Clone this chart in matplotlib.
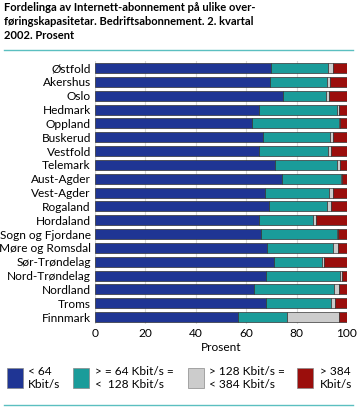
import matplotlib
matplotlib.use("Agg")
import matplotlib.pyplot as plt
from matplotlib.patches import Rectangle
from matplotlib.lines import Line2D
import numpy as np

plt.rcParams['font.family'] = ['Lato', 'DejaVu Sans']

# fylke, top to bottom
fylker = ["Østfold", "Akershus", "Oslo", "Hedmark", "Oppland", "Buskerud",
          "Vestfold", "Telemark", "Aust-Agder", "Vest-Agder", "Rogaland",
          "Hordaland", "Sogn og Fjordane", "Møre og Romsdal", "Sør-Trøndelag",
          "Nord-Trøndelag", "Nordland", "Troms", "Finnmark"]

# percentages
under_64 = [69.8, 69.3, 74.8, 65.2, 62.3, 66.8, 65.2, 71.3, 74.2, 67.4, 69.0,
            65.0, 65.8, 68.3, 71.0, 67.8, 63.0, 67.8, 56.7]
k64_128 = [22.7, 22.6, 16.9, 30.8, 34.4, 26.4, 27.3, 24.9, 23.4, 25.6, 23.1,
           21.5, 30.2, 26.3, 19.1, 29.3, 31.8, 25.7, 19.3]
k128_384 = [1.8, 1.3, 1.0, 0.8, 0.4, 1.1, 1.0, 0.9, 0.5, 1.3, 1.5,
            1.2, 0.6, 2.0, 0.9, 1.0, 2.2, 1.7, 20.7]
over_384 = [5.7, 6.8, 7.3, 3.2, 2.9, 5.7, 6.5, 2.9, 1.9, 5.7, 6.4,
            12.3, 3.4, 3.4, 9.0, 1.9, 3.0, 4.8, 3.3]

series = [under_64, k64_128, k128_384, over_384]
labels = ["< 64\nKbit/s", "> = 64 Kbit/s =\n<  128 Kbit/s",
          "> 128 Kbit/s =\n< 384 Kbit/s", "> 384\nKbit/s"]
colors = ["#1f3594", "#1a9c9a", "#cccccc", "#9b0e0c"]
xticks = [0, 20, 40, 60, 80, 100]

fig = plt.figure(figsize=(3.57, 4.08), dpi=100)
ax = fig.add_axes([0.266, 0.206, 0.706, 0.644])

y = np.arange(len(fylker))
left = np.zeros(len(fylker))
for vals, col in zip(series, colors):
    ax.barh(y, vals, left=left, height=0.72, color=col,
            edgecolor="#333333", linewidth=0.5, zorder=3)
    left = left + np.array(vals)

ax.set_ylim(len(fylker) - 0.5, -0.5)
ax.set_xlim(0, 100)
ax.set_yticks(y)
ax.set_yticklabels(fylker, fontsize=8.6)
ax.set_xticks(xticks)
ax.set_xticklabels([str(t) for t in xticks], fontsize=8.6)
ax.tick_params(length=0, pad=3)
ax.grid(axis="x", color="#d9d9d9", linewidth=0.8, zorder=0)
for s in ax.spines.values():
    s.set_visible(False)
ax.set_xlabel("Prosent", fontsize=8.6, labelpad=2)

# title
fig.text(0.01, 0.996, "Fordelinga av Internett-abonnement på ulike over-\n"
         "føringskapasitetar. Bedriftsabonnement. 2. kvartal\n2002. Prosent",
         fontsize=8.0, fontweight="bold", va="top", ha="left", linespacing=1.36)
fig.add_artist(Line2D([0.01, 0.99], [0.877, 0.877], color="#5bbfc0", linewidth=1.0))
fig.add_artist(Line2D([0.01, 0.99], [0.008, 0.008], color="#5bbfc0", linewidth=1.0))

# legend drawn by hand
box_x = [7, 73, 188, 297]
text_x = [28, 95, 209, 320]
for bx, tx, col, lab in zip(box_x, text_x, colors, labels):
    fig.add_artist(Rectangle((bx / 357, (408 - 388) / 408), 16 / 357, 20 / 408,
                             transform=fig.transFigure, facecolor=col,
                             edgecolor="#888888", linewidth=0.5))
    fig.text(tx / 357, (408 - 378) / 408, lab, fontsize=8.6, va="center",
             ha="left", linespacing=1.2)

fig.savefig("out.png", dpi=100)
